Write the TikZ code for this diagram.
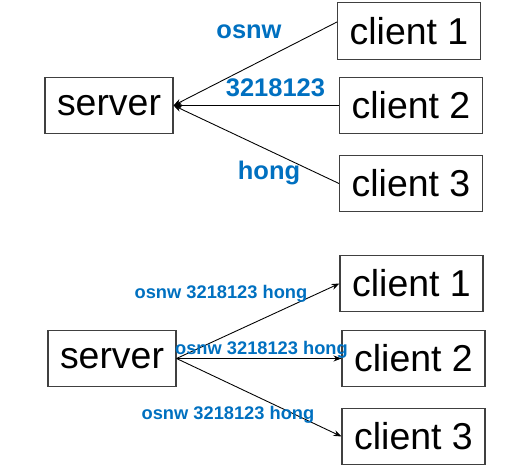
\documentclass[tikz,border=0pt]{standalone}
\usepackage{fontspec}
\setmainfont{Liberation Sans}
\usetikzlibrary{arrows.meta}
\definecolor{msgblue}{RGB}{0,112,192}
\begin{document}
\begin{tikzpicture}[
  box/.style = {draw=black!75, line width=0.6pt, minimum height=1.13cm, inner sep=0pt,
    font=\fontsize{21.3}{24}\selectfont},
  srv/.style = {box, minimum width=2.56cm},
  cli/.style = {box, minimum width=2.86cm},
  msg/.style = {text=msgblue, inner sep=0pt, font=\fontsize{14.5}{16}\selectfont\bfseries},
  smallmsg/.style = {text=msgblue, inner sep=0pt, font=\fontsize{10.4}{12}\selectfont\bfseries},
  link/.style = {line width=0.5pt, -{Stealth[length=0.16cm,width=0.12cm]}}
]
\useasboundingbox (0,0) rectangle (10.5,9.36);
% clients send their part to the server
\node[srv] (s) at (2.18,7.25) {server};
\node[cli] (c1) at (8.18,8.74) {client 1};
\node[cli] (c2) at (8.22,7.25) {client 2};
\node[cli] (c3) at (8.22,5.69) {client 3};
\draw[link] ([yshift=0.18cm]c1.west) -- (s.east);
\draw[link] (c2.west) -- (s.east);
\draw[link] (c3.west) -- (s.east);
\node[msg] (m1) at (4.98,8.73) {osnw};
\node[msg] (m2) at (5.51,7.60) {3218123};
\node[msg] (m3) at (5.38,5.91) {hong};
% server sends everything back to every client
\node[srv] (bs) at (2.24,2.19) {server};
\node[cli] (bc1) at (8.23,3.69) {client 1};
\node[cli] (bc2) at (8.27,2.19) {client 2};
\node[cli] (bc3) at (8.27,0.63) {client 3};
\draw[link] (bs.east) -- (bc1.west);
\draw[link] (bs.east) -- (bc2.west);
\draw[link] (bs.east) -- (bc3.west);
\node[smallmsg] (b1) at (4.42,3.49) {osnw 3218123 hong};
\node[smallmsg] (b2) at (5.23,2.36) {osnw 3218123 hong};
\node[smallmsg] (b3) at (4.56,1.07) {osnw 3218123 hong};
\end{tikzpicture}
\end{document}
